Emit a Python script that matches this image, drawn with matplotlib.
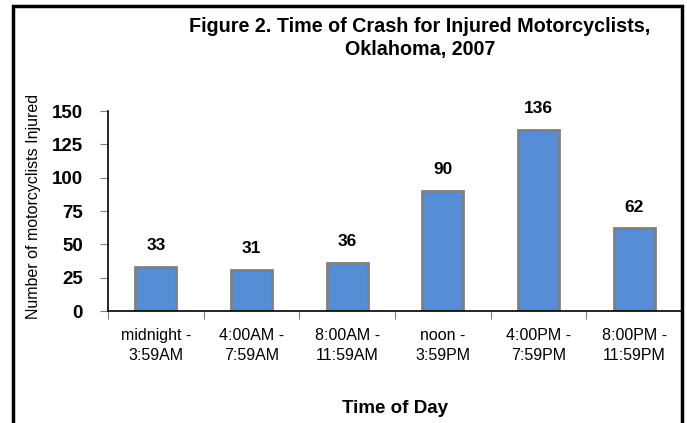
import matplotlib.pyplot as plt
from matplotlib.patches import Rectangle

times = ['midnight -\n3:59AM', '4:00AM -\n7:59AM', '8:00AM -\n11:59AM',
         'noon -\n3:59PM', '4:00PM -\n7:59PM', '8:00PM -\n11:59PM']
injured = [33, 31, 36, 90, 136, 62]
yticks = [0, 25, 50, 75, 100, 125, 150]

plt.rcParams['font.family'] = ['Liberation Sans', 'DejaVu Sans']

fig = plt.figure(figsize=(6.87, 4.23), dpi=100)
ax = fig.add_axes([108 / 687, 1 - 311 / 423, 574 / 687, 200 / 423])

x = range(len(times))
ax.bar(x, injured, width=0.43, color='#558ED5', edgecolor='#7F7F7F', linewidth=2)
for i, v in zip(x, injured):
    ax.text(i, v + 16, str(v), ha='center', va='center', fontsize=12.5, fontweight='bold')

ax.set_xlim(-0.5, len(times) - 0.5)
ax.set_ylim(0, 150)
ax.set_yticks(yticks)
ax.set_yticklabels([str(t) for t in yticks], fontsize=13.5, fontweight='bold')
ax.set_xticks([i + 0.5 for i in range(-1, len(times))])
ax.set_xticklabels([])
ax.set_xticks(list(x), minor=True)
ax.set_xticklabels(times, minor=True, fontsize=11.5, linespacing=1.45)
ax.tick_params(axis='x', which='minor', length=0, pad=12)
ax.tick_params(axis='x', which='major', length=6, direction='out', color='#7F7F7F')
ax.tick_params(axis='y', length=6, direction='out', color='#7F7F7F', pad=12)

ax.spines['top'].set_visible(False)
ax.spines['right'].set_visible(False)
ax.spines['left'].set_linewidth(1.2)
ax.spines['bottom'].set_linewidth(1.2)

fig.text(34 / 687, 1 - 206 / 423, 'Number of motorcyclists Injured', rotation=90,
         ha='center', va='center', fontsize=11.5)
fig.text(395 / 687, 1 - 408 / 423, 'Time of Day',
         ha='center', va='center', fontsize=13.5, fontweight='bold')

fig.text(420 / 687, 1 - 27 / 423, 'Figure 2. Time of Crash for Injured Motorcyclists,',
         ha='center', va='center', fontsize=14.2, fontweight='bold')
fig.text(420 / 687, 1 - 50 / 423, 'Oklahoma, 2007',
         ha='center', va='center', fontsize=14.2, fontweight='bold')

fig.patches.append(Rectangle((13 / 687, -0.05), 669 / 687, 1.05 - 6 / 423,
                             transform=fig.transFigure, fill=False,
                             edgecolor='black', linewidth=2.5))

fig.savefig('out.png', dpi=100)
